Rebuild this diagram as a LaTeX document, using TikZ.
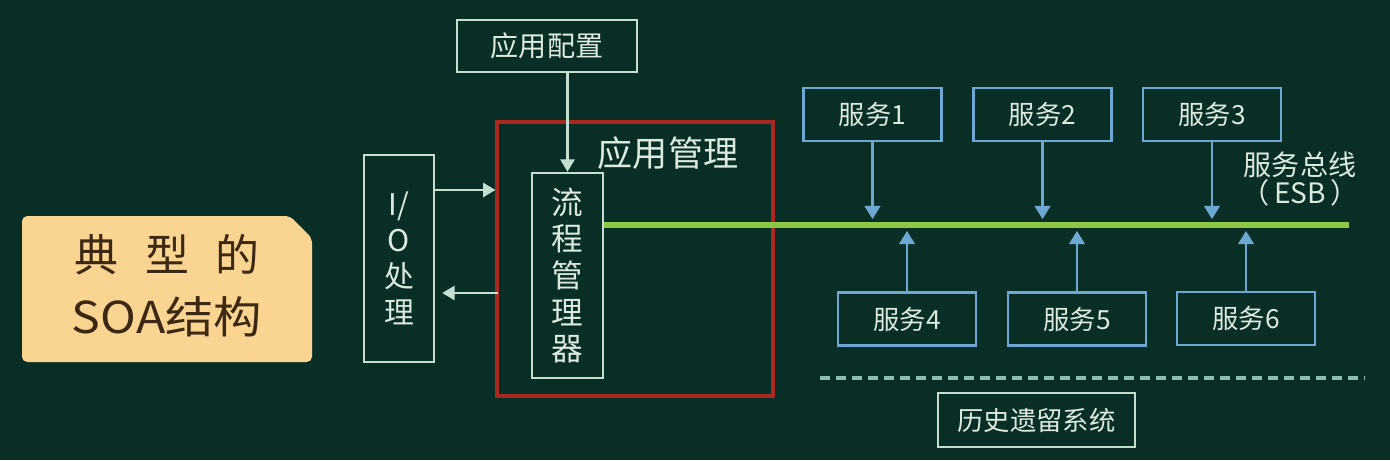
\documentclass[tikz,border=0pt]{standalone}
\usepackage{fontspec}
\setmainfont{Noto Sans CJK SC}
\usetikzlibrary{arrows.meta}
\definecolor{bg}{RGB}{8,46,38}
\definecolor{boxw}{RGB}{196,222,212}
\definecolor{txtw}{RGB}{220,232,226}
\definecolor{svc}{RGB}{110,168,210}
\definecolor{redb}{RGB}{170,40,34}
\definecolor{esb}{RGB}{140,200,70}
\definecolor{lbl}{RGB}{250,212,145}
\definecolor{lbltxt}{RGB}{60,40,20}
\definecolor{dashc}{RGB}{143,190,176}
\begin{document}
\begin{tikzpicture}[x=0.02cm,y=-0.02cm,
 wbox/.style={draw=boxw,line width=1.4pt,inner sep=0pt,text=txtw},
 sbox/.style={draw=svc,line width=1.4pt,inner sep=0pt,text=txtw,minimum width=2.76cm,minimum height=1.06cm,font=\fontsize{15}{18}\selectfont},
 warr/.style={draw=boxw,line width=1.2pt,-{Triangle[width=8pt,length=7pt]}},
 barr/.style={draw=svc,line width=1.2pt,-{Triangle[width=9pt,length=7.5pt]}},
 lbltext/.style={text=lbltxt,font=\fontsize{25}{30}\selectfont,inner sep=0pt}
]
\fill[bg] (0,0) rectangle (1390,460);
\useasboundingbox (0,0) rectangle (1390,460);

% left label
\fill[lbl,rounded corners=3] (22,362) -- (22,216) -- (290,216) -- (312,238) -- (312,362) -- cycle;
\node[lbltext] (t1) at (167,255) {典\hspace{0.6em}型\hspace{0.6em}的};
\node[lbltext] (t2) at (167,317) {\addfontfeatures{FakeStretch=1.1}SOA结构};

% I/O box
\node[wbox,minimum width=1.4cm,minimum height=4.14cm,align=center,font=\fontsize{17}{20.5}\selectfont] (io) at (399,258.5) {I/\\O\\处\\理};

% application management red box
\node[draw=redb,line width=1.8pt,minimum width=5.52cm,minimum height=5.48cm,inner sep=0pt] (app) at (635,259) {};
\node[text=txtw,font=\fontsize{20}{24}\selectfont,inner sep=0pt] (applbl) at (668,153) {应用管理};

% process manager
\node[wbox,minimum width=1.42cm,minimum height=4.1cm,align=center,font=\fontsize{18}{20.8}\selectfont] (flow) at (567.5,275.5) {流\\程\\管\\理\\器};

% application config
\node[wbox,minimum width=3.6cm,minimum height=1.04cm,font=\fontsize{16}{19}\selectfont] (cfg) at (547,46) {应用配置};

\draw[warr] (cfg.south -| flow.north) -- (flow.north);

\coordinate (ya) at (0,190);
\coordinate (yb) at (0,293);
\draw[warr] (io.east |- ya) -- (app.west |- ya);
\draw[warr] ([xshift=0.06cm]app.west |- yb) -- ([xshift=0.14cm]io.east |- yb);

% ESB line
\coordinate (esbend) at (1349,225);
\draw[esb,line width=3.5pt] (flow.east |- esbend) -- (esbend);
\node[text=txtw,font=\fontsize{16}{15.5}\selectfont,align=center,inner sep=0pt] (esblbl) at (1300,179) {服务总线\\（\hspace{0.15em}ESB\hspace{0.15em}）};

% services
\node[sbox] (s1) at (872.5,114.5) {服务1};
\node[sbox] (s2) at (1042.5,114.5) {服务2};
\node[sbox] (s3) at (1212,114.5) {服务3};
\node[sbox] (s4) at (907,319) {服务4};
\node[sbox] (s5) at (1077,319) {服务5};
\node[sbox] (s6) at (1246,318.5) {服务6};

\coordinate (top) at (0,219);
\coordinate (bot) at (0,231);
\foreach \s in {s1,s2,s3} \draw[barr] (\s.south) -- (\s.south |- top);
\foreach \s in {s4,s5,s6} \draw[barr] (\s.north) -- (\s.north |- bot);

% dashed separator
\coordinate (dl) at (820,378);
\coordinate (dr) at (1365,378);
\draw[dashc,line width=2.2pt,dash pattern=on 0.2cm off 0.12cm] (dl) -- (dr);

% legacy system
\node[wbox,minimum width=3.94cm,minimum height=1.08cm,font=\fontsize{15}{18}\selectfont] (leg) at (1036.5,420) {历史遗留系统};
\end{tikzpicture}
\end{document}
